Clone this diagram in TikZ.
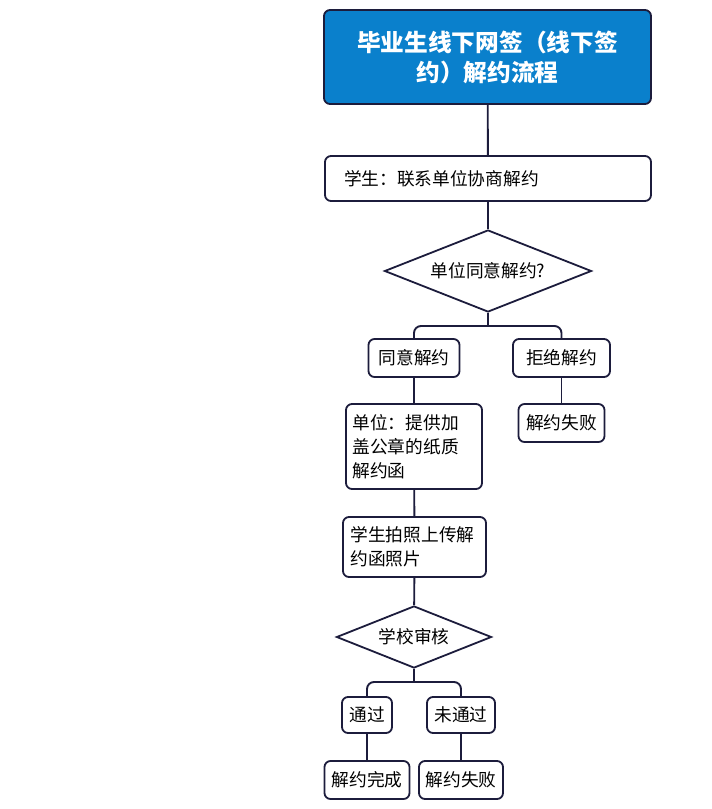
\documentclass[tikz,border=0pt]{standalone}
\usepackage{fontspec}
\newfontfamily\cjk{Noto Sans CJK SC}
\usepackage{tikz}
\usetikzlibrary{positioning,shapes.geometric}
\definecolor{flowblue}{RGB}{10,128,204}
\definecolor{flownavy}{RGB}{28,28,60}
\tikzset{
  ttlbox/.style={draw=flownavy, line width=1.8pt, rounded corners=6pt, fill=flowblue,
      text=white, font=\cjk\bfseries\fontsize{23.7}{30}\selectfont, align=center},
  sbox/.style={draw=flownavy, line width=1.8pt, rounded corners=6pt, fill=white,
      font=\cjk\fontsize{17.7}{24}\selectfont, inner sep=0pt},
  dbox/.style={diamond, draw=flownavy, line width=1.8pt, fill=white, inner sep=0pt,
      aspect=2.5, font=\cjk\fontsize{17.7}{24}\selectfont},
  lnk/.style={flownavy, line width=1.9pt},
  blnk/.style={flownavy, line width=1.9pt, rounded corners=7pt},
}
\begin{document}
\begin{tikzpicture}[x=1pt,y=-1pt]
  \useasboundingbox (0,0) rectangle (712,809);
  \node[ttlbox, minimum width=327pt, minimum height=94pt] (ttl) at (487.5,57)
    {毕业生线下网签（线下签\\约）解约流程};
  \node[sbox, minimum width=326pt, minimum height=45pt, text width=288pt, align=left]
    (ask) at (488,178.5) {学生：联系单位协商解约};
  \node[dbox, minimum width=207pt, minimum height=82pt] (agreeq) at (488,271) {单位同意解约?};
  \node[sbox, minimum width=91pt, minimum height=38pt] (agree) at (414,358) {同意解约};
  \node[sbox, minimum width=97pt, minimum height=38pt] (reject) at (561.5,358) {拒绝解约};
  \node[sbox, minimum width=136pt, minimum height=85pt, text width=123pt, align=left]
    (unit) at (414,446.5) {单位：提供加\\盖公章的纸质\\解约函};
  \node[sbox, minimum width=86pt, minimum height=38pt] (failA) at (561.5,423) {解约失败};
  \node[sbox, minimum width=143pt, minimum height=60pt, text width=128pt, align=left]
    (photo) at (414.5,547) {学生拍照上传解\\约函照片};
  \node[dbox, minimum width=155pt, minimum height=62pt] (check) at (414,637) {学校审核};
  \node[sbox, minimum width=50pt, minimum height=36pt] (pass) at (367,715) {通过};
  \node[sbox, minimum width=68pt, minimum height=36pt] (nopass) at (461,715) {未通过};
  \node[sbox, minimum width=85pt, minimum height=38pt] (done) at (367,780) {解约完成};
  \node[sbox, minimum width=84pt, minimum height=38pt] (failB) at (461,780) {解约失败};
  \coordinate (brA) at (488,326);
  \coordinate (brB) at (414,682);
  \draw[lnk] (ttl) -- (ask);
  \draw[lnk] (ask) -- (agreeq);
  \draw[lnk] (agreeq.south) -- (brA);
  \draw[blnk] (brA) -| (agree.north);
  \draw[blnk] (brA) -| (reject.north);
  \draw[lnk] (agree) -- (unit);
  \draw[lnk] (reject) -- (failA);
  \draw[lnk] (unit) -- (photo);
  \draw[lnk] (photo) -- (check);
  \draw[lnk] (check.south) -- (brB);
  \draw[blnk] (brB) -| (pass.north);
  \draw[blnk] (brB) -| (nopass.north);
  \draw[lnk] (pass) -- (done);
  \draw[lnk] (nopass) -- (failB);
\end{tikzpicture}
\end{document}
